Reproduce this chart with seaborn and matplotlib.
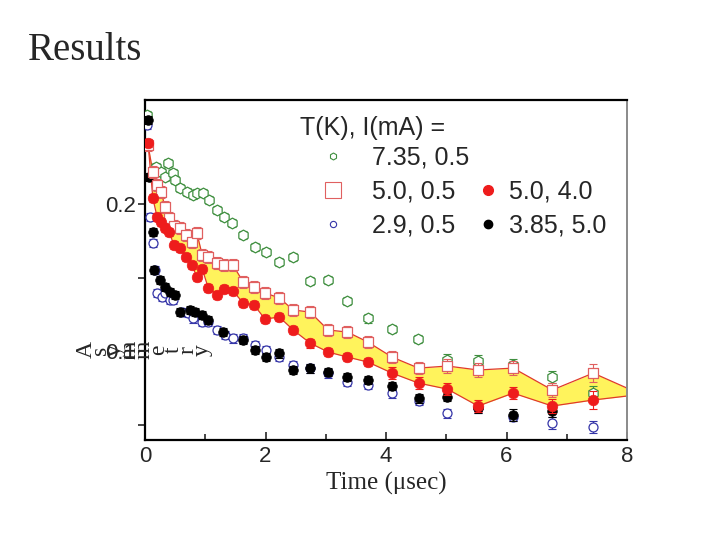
import numpy as np
import pandas as pd
import matplotlib
matplotlib.use("Agg")
import matplotlib.pyplot as plt
from matplotlib.lines import Line2D
import seaborn as sns

# --- data (time in usec, asymmetry) ---
t_green = [0.03, 0.18, 0.27, 0.33, 0.38, 0.47, 0.50, 0.58, 0.70, 0.80, 0.86, 0.96,
           1.06, 1.20, 1.31, 1.45, 1.63, 1.83, 2.01, 2.23, 2.46, 2.74, 3.04, 3.36,
           3.70, 4.10, 4.53, 5.02, 5.53, 6.11, 6.76, 7.44]
a_green = [0.2605, 0.2252, 0.2218, 0.2184, 0.2279, 0.2211, 0.2163, 0.2109, 0.2082, 0.2061,
           0.2075, 0.2075, 0.2027, 0.1959, 0.1912, 0.1871, 0.1789, 0.1707, 0.1673, 0.1605,
           0.1639, 0.1476, 0.1483, 0.1340, 0.1224, 0.1150, 0.1082, 0.0939, 0.0932, 0.0905,
           0.0823, 0.0714]
e_green = [0.003, 0.003, 0.003, 0.003, 0.003, 0.003, 0.003, 0.003, 0.003, 0.003,
           0.003, 0.003, 0.003, 0.003, 0.003, 0.003, 0.003, 0.003, 0.003, 0.003,
           0.003, 0.003, 0.003, 0.003, 0.003, 0.003, 0.003, 0.004, 0.004, 0.004,
           0.004, 0.005]

# both 5.0 K runs share the same time bins
t_red = [0.05, 0.13, 0.20, 0.27, 0.33, 0.40, 0.48, 0.58, 0.68, 0.78, 0.86, 0.95,
         1.05, 1.20, 1.31, 1.46, 1.63, 1.81, 1.99, 2.23, 2.46, 2.74, 3.04, 3.36,
         3.70, 4.10, 4.54, 5.02, 5.53, 6.11, 6.76, 7.44]
a_red_sq = [0.2401, 0.2218, 0.2129, 0.2082, 0.1980, 0.1905, 0.1850, 0.1837, 0.1789, 0.1741,
            0.1803, 0.1653, 0.1639, 0.1599, 0.1585, 0.1585, 0.1469, 0.1435, 0.1395, 0.1361,
            0.1279, 0.1265, 0.1143, 0.1129, 0.1061, 0.0959, 0.0884, 0.0898, 0.0871, 0.0884,
            0.0735, 0.0850]
e_red_sq = [0.004, 0.004, 0.004, 0.004, 0.004, 0.004, 0.004, 0.004, 0.004, 0.004,
            0.004, 0.004, 0.004, 0.004, 0.004, 0.004, 0.004, 0.004, 0.004, 0.004,
            0.004, 0.004, 0.004, 0.004, 0.004, 0.004, 0.004, 0.005, 0.005, 0.005,
            0.005, 0.006]
a_red_dot = [0.2415, 0.2041, 0.1912, 0.1878, 0.1837, 0.1810, 0.1721, 0.1701, 0.1639, 0.1585,
             0.1503, 0.1558, 0.1429, 0.1381, 0.1422, 0.1408, 0.1327, 0.1313, 0.1218, 0.1231,
             0.1143, 0.1054, 0.0993, 0.0959, 0.0925, 0.0850, 0.0782, 0.0741, 0.0626, 0.0714,
             0.0626, 0.0667]
e_red_dot = [0.003, 0.003, 0.003, 0.003, 0.003, 0.003, 0.003, 0.003, 0.003, 0.003,
             0.003, 0.003, 0.003, 0.003, 0.003, 0.003, 0.003, 0.003, 0.003, 0.003,
             0.003, 0.003, 0.003, 0.003, 0.003, 0.004, 0.004, 0.004, 0.004, 0.004,
             0.005, 0.006]
# band continues to the axis edge
band_end_t = 8.0
band_end_upper = 0.0748
band_end_lower = 0.0694

t_blue = [0.03, 0.08, 0.13, 0.17, 0.20, 0.28, 0.33, 0.42, 0.47, 0.62, 0.71, 0.80,
          0.95, 1.05, 1.20, 1.33, 1.46, 1.63, 1.83, 2.01, 2.23, 2.46, 2.74, 3.04,
          3.36, 3.70, 4.10, 4.54, 5.02, 5.53, 6.11, 6.76, 7.44]
a_blue = [0.2537, 0.1912, 0.1735, 0.1551, 0.1395, 0.1367, 0.1395, 0.1347, 0.1347, 0.1265,
          0.1259, 0.1224, 0.1197, 0.1197, 0.1143, 0.1109, 0.1088, 0.1088, 0.1041, 0.1007,
          0.0959, 0.0905, 0.0884, 0.0850, 0.0789, 0.0769, 0.0714, 0.0660, 0.0578, 0.0612,
          0.0551, 0.0510, 0.0483]
e_blue = [0.003, 0.003, 0.003, 0.003, 0.003, 0.003, 0.003, 0.003, 0.003, 0.003,
          0.003, 0.003, 0.003, 0.003, 0.003, 0.003, 0.003, 0.003, 0.003, 0.003,
          0.003, 0.003, 0.003, 0.003, 0.003, 0.003, 0.003, 0.003, 0.003, 0.003,
          0.003, 0.004, 0.004]

t_black = [0.05, 0.07, 0.13, 0.15, 0.25, 0.33, 0.42, 0.50, 0.58, 0.75, 0.83, 0.95,
           1.05, 1.30, 1.63, 1.83, 2.01, 2.23, 2.46, 2.74, 3.04, 3.36, 3.70, 4.10,
           4.54, 5.02, 5.53, 6.11, 6.76]
a_black = [0.2571, 0.2184, 0.1810, 0.1551, 0.1483, 0.1435, 0.1401, 0.1381, 0.1265, 0.1279,
           0.1265, 0.1245, 0.1211, 0.1129, 0.1075, 0.1007, 0.0959, 0.0986, 0.0871, 0.0884,
           0.0857, 0.0823, 0.0803, 0.0762, 0.0680, 0.0687, 0.0612, 0.0565, 0.0592]
e_black = [0.003, 0.003, 0.003, 0.003, 0.003, 0.003, 0.003, 0.003, 0.003, 0.003,
           0.003, 0.003, 0.003, 0.003, 0.003, 0.003, 0.003, 0.003, 0.003, 0.003,
           0.003, 0.003, 0.003, 0.003, 0.003, 0.003, 0.003, 0.004, 0.004]

labels = ["7.35, 0.5", "5.0, 0.5", "2.9, 0.5", "5.0, 4.0", "3.85, 5.0"]

GREEN = "#3f8f3f"
RED = "#ee1c1c"
PINK = "#e06060"
BLUE = "#3535a8"
YELLOW = "#fff35c"

sns.set_style("ticks")
plt.rcParams["font.family"] = ["Liberation Sans", "DejaVu Sans"]

fig = plt.figure(figsize=(7.2, 5.4), dpi=100)
ax = fig.add_axes([145 / 720, 1 - 440 / 540, 482 / 720, 340 / 540])

# yellow band between the two 5.0 K runs
band_t = t_red + [band_end_t]
band_hi = a_red_sq + [band_end_upper]
band_lo = a_red_dot + [band_end_lower]
ax.fill_between(band_t, band_lo, band_hi, color=YELLOW, lw=0, zorder=1)
band = pd.DataFrame({"t": band_t + band_t,
                     "A": band_hi + band_lo,
                     "edge": ["hi"] * len(band_t) + ["lo"] * len(band_t)})
sns.lineplot(data=band, x="t", y="A", units="edge", estimator=None, sort=False,
             color="#e03a2a", lw=0.9, ax=ax, zorder=2)


def draw(t, a, e, marker, color, size, filled, z):
    ax.errorbar(t, a, yerr=e, fmt="none", ecolor=color, elinewidth=0.8,
                capsize=3, capthick=0.8, zorder=z)
    if filled:
        sns.scatterplot(x=t, y=a, marker=marker, s=size, color=color,
                        edgecolor=color, linewidth=0.5, ax=ax, zorder=z + 0.5)
    else:
        sns.scatterplot(x=t, y=a, marker=marker, s=size, facecolor="white",
                        edgecolor=color, linewidth=0.9, ax=ax, zorder=z + 0.5)


draw(t_green, a_green, e_green, "h", GREEN, 60, False, 3)
draw(t_blue, a_blue, e_blue, "o", BLUE, 42, False, 3)
draw(t_black, a_black, e_black, "o", "black", 48, True, 4)
draw(t_red, a_red_sq, e_red_sq, "s", PINK, 55, False, 5)
draw(t_red, a_red_dot, e_red_dot, "o", RED, 58, True, 6)

ax.set_xlim(0, 8)
ax.set_ylim(0.0395, 0.2707)
ax.set_xticks([0, 2, 4, 6, 8])
ax.set_xticks([1, 3, 5, 7], minor=True)
ax.set_yticks([0.1, 0.2])
ax.set_yticklabels(["0.1", "0.2"])
ax.set_yticks([0.05, 0.15], minor=True)
ax.tick_params(axis="x", which="both", direction="in", labelsize=16, pad=4, width=1.2)
ax.tick_params(axis="x", which="major", length=6)
ax.tick_params(axis="x", which="minor", length=4)
ax.tick_params(axis="y", which="both", direction="out", labelsize=16, pad=1.5, width=1.2)
ax.tick_params(axis="y", which="major", length=5)
ax.tick_params(axis="y", which="minor", length=5)
for side in ["left", "bottom", "top"]:
    ax.spines[side].set_linewidth(1.6)
    ax.spines[side].set_color("black")
ax.spines["right"].set_linewidth(1.4)
ax.spines["right"].set_color("#8a8a8a")
ax.set_xlabel("")
ax.set_ylabel("")

fig.text(386 / 720, 1 - 483 / 540, "Time (\u03bcsec)", family="Liberation Serif",
         fontsize=18, ha="center", va="center")
for i, ch in enumerate("Asymmetry"):
    fig.text((86 + i * 14.5) / 720, 1 - 350 / 540, ch, family="Liberation Serif",
             fontsize=17, rotation=90, ha="center", va="center", rotation_mode="anchor")
fig.text(28 / 720, 1 - 50 / 540, "Results", family="Liberation Serif",
         fontsize=28, ha="left", va="center")

# legend: header text plus two blocks of entries
ax.text((300 - 145) / 482, (440 - 128) / 340, "T(K), I(mA) =", transform=ax.transAxes,
        fontsize=18, ha="left", va="center")
h1 = [Line2D([], [], ls="none", marker="h", ms=5, mfc="white", mec=GREEN, mew=0.8),
      Line2D([], [], ls="none", marker="s", ms=12, mfc="white", mec=PINK, mew=0.8),
      Line2D([], [], ls="none", marker="o", ms=4.5, mfc="white", mec=BLUE, mew=0.8)]
leg1 = ax.legend(h1, labels[:3], loc="upper left",
                 bbox_to_anchor=((318 - 145) / 482, (440 - 146) / 340), frameon=False,
                 fontsize=18, handlelength=1.2, handletextpad=0.95,
                 labelspacing=0.4, borderaxespad=0.0, borderpad=0.0)
ax.add_artist(leg1)
h2 = [Line2D([], [], ls="none", marker="o", ms=7, color=RED),
      Line2D([], [], ls="none", marker="o", ms=6, color="black")]
ax.legend(h2, labels[3:], loc="upper left",
          bbox_to_anchor=((478 - 145) / 482, (440 - 180) / 340),
          frameon=False, fontsize=18, handlelength=0.8, handletextpad=0.45,
          labelspacing=0.4, borderaxespad=0.0, borderpad=0.0)

fig.savefig("out.png", dpi=100)
